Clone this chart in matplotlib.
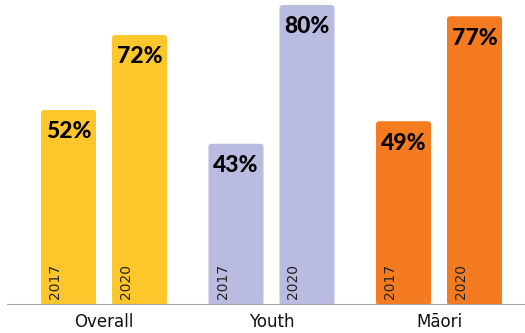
import matplotlib
matplotlib.use("Agg")
import matplotlib.pyplot as plt
from matplotlib.patches import FancyBboxPatch

groups = ["Overall", "Youth", "Māori"]
years = ["2017", "2020"]
values_2017 = [52, 43, 49]
values_2020 = [72, 80, 77]
colors = ["#FFC72C", "#B9BCE0", "#F47B20"]

W, H = 525, 333
fig = plt.figure(figsize=(W / 100, H / 100), dpi=100)
ax = fig.add_axes([7 / W, (H - 305) / H, 518 / W, 305 / H])

px_x = 1 / 167.5      # data units per pixel (x)
px_y = 1 / 3.75       # data units per pixel (y)
xlim = (-97 * px_x, -97 * px_x + 518 * px_x)
ylim = (0, 305 * px_y)
ax.set_xlim(*xlim)
ax.set_ylim(*ylim)

bar_w = 55 * px_x
offset = 35.5 * px_x

for i, (g, c) in enumerate(zip(groups, colors)):
    for j, (yr, vals) in enumerate(zip(years, [values_2017, values_2020])):
        xc = i + (-offset if j == 0 else offset)
        v = vals[i]
        rect = ax.bar(xc, v, width=bar_w, color=c)[0]
        rect.set_visible(False)
        x0, y0 = rect.get_x(), rect.get_y()
        w, h = rect.get_width(), rect.get_height()
        patch = FancyBboxPatch((x0, y0), w, h,
                               boxstyle=f"round,pad=0,rounding_size={3 * px_x}",
                               mutation_aspect=px_y / px_x,
                               facecolor=c, edgecolor="none")
        ax.add_patch(patch)
        ax.text(xc, v - 22 * px_y, f"{v}%", ha="center", va="center",
                fontsize=16.5, fontweight=900, family="Lato", color="black")
        ax.text(xc - 13.5 * px_x, 6 * px_y, yr, rotation=90, ha="center",
                va="bottom", fontsize=10, color="#222222")

ax.axhline(0, color="#A6A6A6", lw=1.5, zorder=5)
ax.set_xticks(range(len(groups)))
ax.set_xticklabels(groups, fontsize=12, color="#111111")
ax.tick_params(axis="x", length=0, pad=6)
ax.set_yticks([])
for s in ax.spines.values():
    s.set_visible(False)

fig.savefig("out.png", dpi=100)
